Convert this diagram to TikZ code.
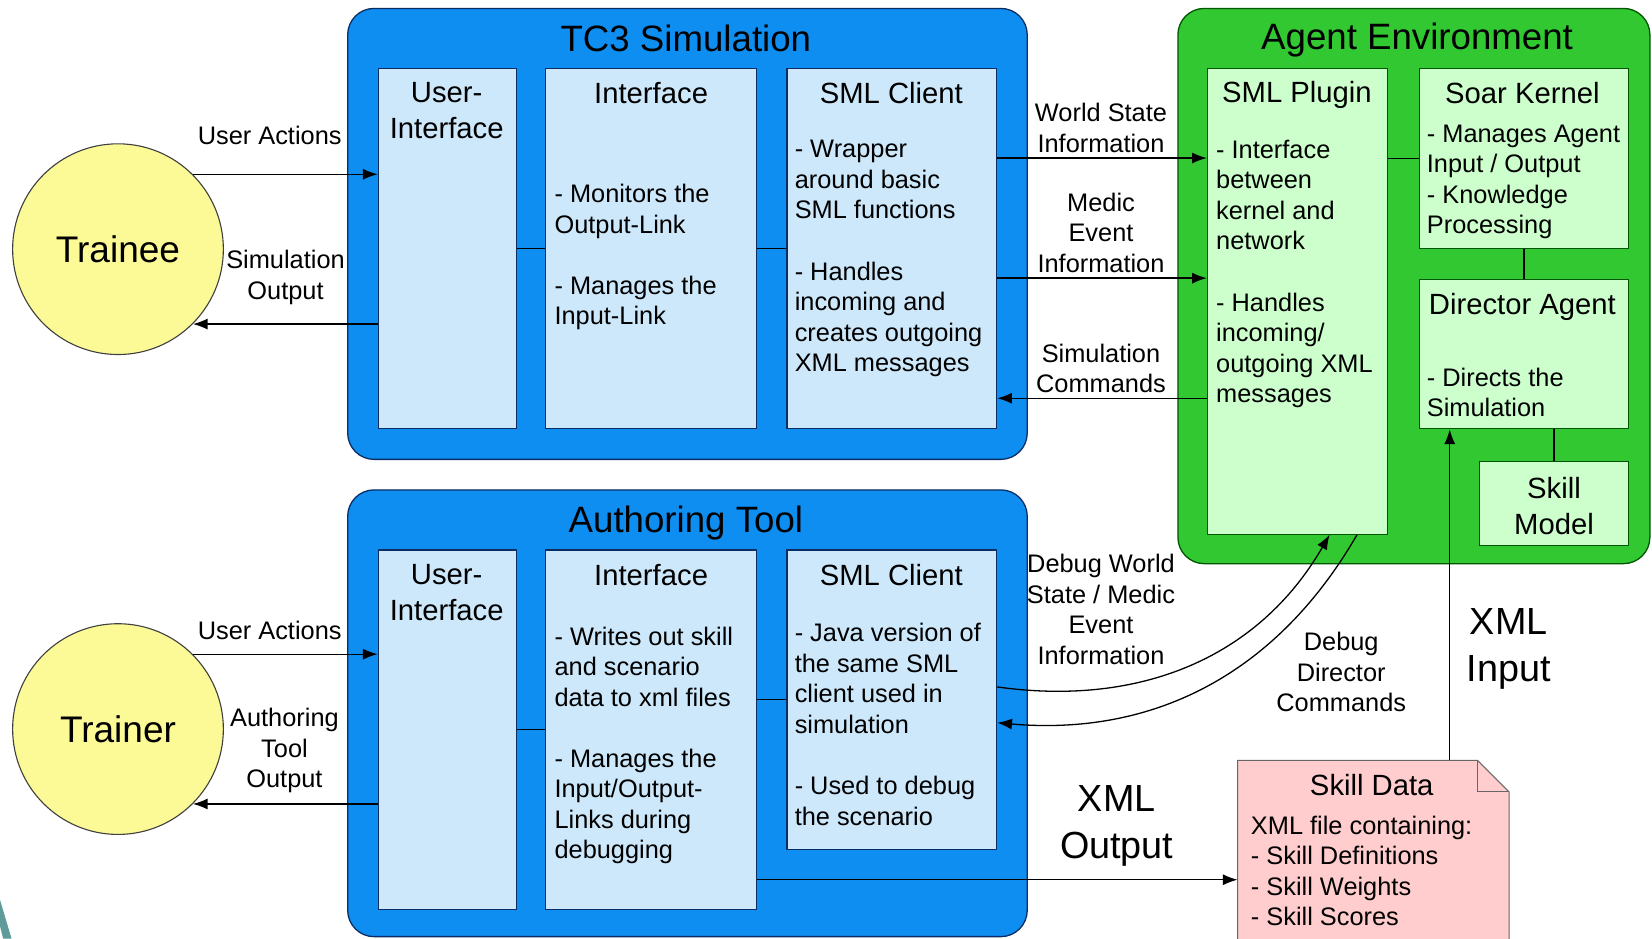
\documentclass[tikz,border=0pt]{standalone}
\usepackage{fontspec}
\setmainfont{Liberation Sans}
\usetikzlibrary{positioning,arrows.meta,fit}
\definecolor{tcBlue}{RGB}{15,142,242}
\definecolor{tcNavy}{RGB}{10,45,100}
\definecolor{tcPale}{RGB}{204,232,250}
\definecolor{agGreen}{RGB}{50,200,50}
\definecolor{agDark}{RGB}{0,85,0}
\definecolor{agPale}{RGB}{204,255,204}
\definecolor{usrYellow}{RGB}{252,250,150}
\definecolor{notePink}{RGB}{255,205,205}
\definecolor{slideTeal}{RGB}{95,155,155}

\begin{document}
\begin{tikzpicture}[x=0.2mm, y=0.2mm,
  simpanel/.style={draw=tcNavy, fill=tcBlue, rounded corners=5mm, inner sep=0pt, line width=0.7pt},
  agpanel/.style={draw=agDark, fill=agGreen, rounded corners=5mm, inner sep=0pt, line width=0.7pt},
  simbox/.style={draw=tcNavy, fill=tcPale, inner sep=0pt, line width=0.6pt},
  agbox/.style={draw=agDark, fill=agPale, inner sep=0pt, line width=0.6pt},
  actor/.style={circle, draw=black!75, fill=usrYellow, minimum size=40mm, inner sep=0pt, line width=0.6pt, font=\fontsize{20}{24}\selectfont},
  paneltitle/.style={inner sep=0pt, font=\fontsize{19.8}{23}\selectfont},
  boxtitle/.style={align=center, inner sep=0pt, font=\fontsize{15.8}{19.3}\selectfont},
  boxtext/.style={anchor=west, align=left, inner sep=0pt, font=\fontsize{13.7}{16.5}\selectfont},
  lbl/.style={align=center, inner sep=0pt, font=\fontsize{13.7}{16.5}\selectfont},
  biglbl/.style={align=center, inner sep=0pt, font=\fontsize{20.4}{25.5}\selectfont},
  flow/.style={-{Latex[length=2.8mm,width=2.1mm]}, line width=0.7pt},
  link/.style={line width=0.7pt}]
  \clip (0,0) rectangle (1568,891);

  % slide corner
  \fill[slideTeal] (0,37) -- (11,0) -- (3,0) -- (0,12) -- cycle;

  % users
  \node[actor] (trainee) at (112,654.5) {Trainee};
  \node[actor] (trainer) at (112,199) {Trainer};

  % TC3 simulation
  \node[simpanel, fit={(330,883) (975,455)}] (tcPanel) {};
  \node[paneltitle] (tcTitle) at (651,855) {TC3 Simulation};
  \node[simbox, fit={(359,826) (490,484)}] (tcUI) {};
  \node[simbox, fit={(518,826) (718,484)}] (tcIf) {};
  \node[simbox, fit={(747,826) (946,484)}] (tcSml) {};
  \node[boxtitle] (tcUIName) at (424,786) {User-\\Interface};
  \node[boxtitle] (tcIfName) at (618,803) {Interface};
  \node[boxtitle] (tcSmlName) at (846,803) {SML Client};
  \node[boxtext] (tcIfText) at (526,647) {- Monitors the\\Output-Link\\[16.5pt]- Manages the\\Input-Link};
  \node[boxtext] (tcSmlText) at (754,645.5) {- Wrapper\\around basic\\SML functions\\[16.5pt]- Handles\\incoming and\\creates outgoing\\XML messages};
  \draw[link] (tcUI) -- (tcIf);
  \draw[link] (tcIf) -- (tcSml);

  % authoring tool
  \node[simpanel, fit={(330,426) (975,2)}] (atPanel) {};
  \node[paneltitle] (atTitle) at (651,395) {Authoring Tool};
  \node[simbox, fit={(359,369) (490,28)}] (atUI) {};
  \node[simbox, fit={(518,369) (718,28)}] (atIf) {};
  \node[simbox, fit={(747,369) (946,85)}] (atSml) {};
  \node[boxtitle] (atUIName) at (424,328.5) {User-\\Interface};
  \node[boxtitle] (atIfName) at (618,345) {Interface};
  \node[boxtitle] (atSmlName) at (846,345) {SML Client};
  \node[boxtext] (atIfText) at (526,183.5) {- Writes out skill\\and scenario\\data to xml files\\[16.5pt]- Manages the\\Input/Output-\\Links during\\debugging};
  \node[boxtext] (atSmlText) at (754,203.5) {- Java version of\\the same SML\\client used in\\simulation\\[16.5pt]- Used to debug\\the scenario};
  \draw[link] (atUI) -- (atIf);
  \draw[link] (atSml.west) -- (atSml.west -| atIf.east);

  % agent environment
  \node[agpanel, fit={(1118,883) (1566,356)}] (agPanel) {};
  \node[paneltitle] (agTitle) at (1345,853) {Agent Environment};
  \node[agbox, fit={(1146,826) (1317,384)}] (agPlugin) {};
  \node[agbox, fit={(1347,826) (1546,655)}] (agKernel) {};
  \node[agbox, fit={(1347,626) (1546,484)}] (agDirector) {};
  \node[agbox, fit={(1404,453) (1546,373)}] (agSkill) {};
  \node[boxtitle] (agPluginName) at (1231,801) {SML Plugin};
  \node[boxtitle] (agKernelName) at (1445,803) {Soar Kernel};
  \node[boxtitle] (agDirectorName) at (1445,600) {Director Agent};
  \node[boxtitle] (agSkillName) at (1475,411) {Skill\\Model};
  \node[boxtext] (agPluginText) at (1154,631) {- Interface\\between\\kernel and\\network\\[16.5pt]- Handles\\incoming/\\outgoing XML\\messages};
  \node[boxtext] (agKernelText) at (1354,718.5) {- Manages Agent\\Input / Output\\- Knowledge\\Processing};
  \node[boxtext] (agDirectorText) at (1354,518.5) {- Directs the\\Simulation};
  \draw[link] (agKernel.west) -- (agKernel.west -| agPlugin.east);
  \draw[link] (agKernel) -- (agDirector);
  \draw[link] (agSkill.north) -- (agSkill.north |- agDirector.south);

  % skill data file
  \node[fit={(1175,169) (1432,-10)}, inner sep=0pt] (skillData) {};
  \draw[fill=notePink, draw=black!60, line width=0.6pt] (skillData.south west) -- (skillData.north west)
    -- ([xshift=-6mm]skillData.north east) -- ([yshift=-6mm]skillData.north east) -- (skillData.south east) -- cycle;
  \draw[draw=black!60, line width=0.6pt] ([xshift=-6mm]skillData.north east) -- ([xshift=-6mm,yshift=-6mm]skillData.north east) -- ([yshift=-6mm]skillData.north east);
  \node[boxtitle] (skillDataName) at (1302,146) {Skill Data};
  \node[boxtext] (skillDataText) at (1187,64.5) {XML file containing:\\- Skill Definitions\\- Skill Weights\\- Skill Scores};

  % user interaction
  \draw[flow] (trainee.45) -- (trainee.45 -| tcUI.west);
  \draw[flow] (trainee.-45 -| tcUI.west) -- (trainee.-45);
  \draw[flow] (trainer.45) -- (trainer.45 -| atUI.west);
  \draw[flow] (trainer.-45 -| atUI.west) -- (trainer.-45);
  \node[lbl] (uaTop) at (256,762) {User Actions};
  \node[lbl] (simOut) at (271,627.5) {Simulation\\Output};
  \node[lbl] (uaBottom) at (256,293) {User Actions};
  \node[lbl] (atOut) at (270,178.5) {Authoring\\Tool\\Output};

  % simulation <-> agent
  \draw[flow] ([yshift=17.2mm]tcSml.east) -- ([yshift=17.2mm]tcSml.east -| agPlugin.west);
  \draw[flow] ([yshift=-5.6mm]tcSml.east) -- ([yshift=-5.6mm]tcSml.east -| agPlugin.west);
  \draw[flow] ([yshift=-28.4mm]tcSml.east -| agPlugin.west) -- ([yshift=-28.4mm]tcSml.east);
  \node[lbl] (worldState) at (1045,769.5) {World State\\Information};
  \node[lbl] (medicEvent) at (1045,670) {Medic\\Event\\Information};
  \node[lbl] (simCmd) at (1045,541.5) {Simulation\\Commands};

  % debugging links
  \draw[flow] ([yshift=2.4mm]atSml.east) to[out=-8, in=240] ([xshift=6.1mm]agPlugin.south);
  \draw[flow] ([xshift=11.3mm]agPlugin.south) to[out=240, in=-5] ([yshift=-4.4mm]atSml.east);
  \node[lbl] (debugWorld) at (1045,312.5) {Debug World\\State / Medic\\Event\\Information};
  \node[lbl] (debugDir) at (1273,253) {Debug\\Director\\Commands};

  % xml files
  \coordinate (xmlInX) at (1376,0);
  \draw[flow] (skillData.north -| xmlInX) -- (agDirector.south -| xmlInX);
  \node[biglbl] (xmlIn) at (1432,275) {XML\\Input};
  \draw[flow] ([yshift=-28.5mm]atIf.east) -- ([yshift=-28.5mm]atIf.east -| skillData.west);
  \node[biglbl] (xmlOut) at (1060,107) {XML\\Output};
\end{tikzpicture}
\end{document}
